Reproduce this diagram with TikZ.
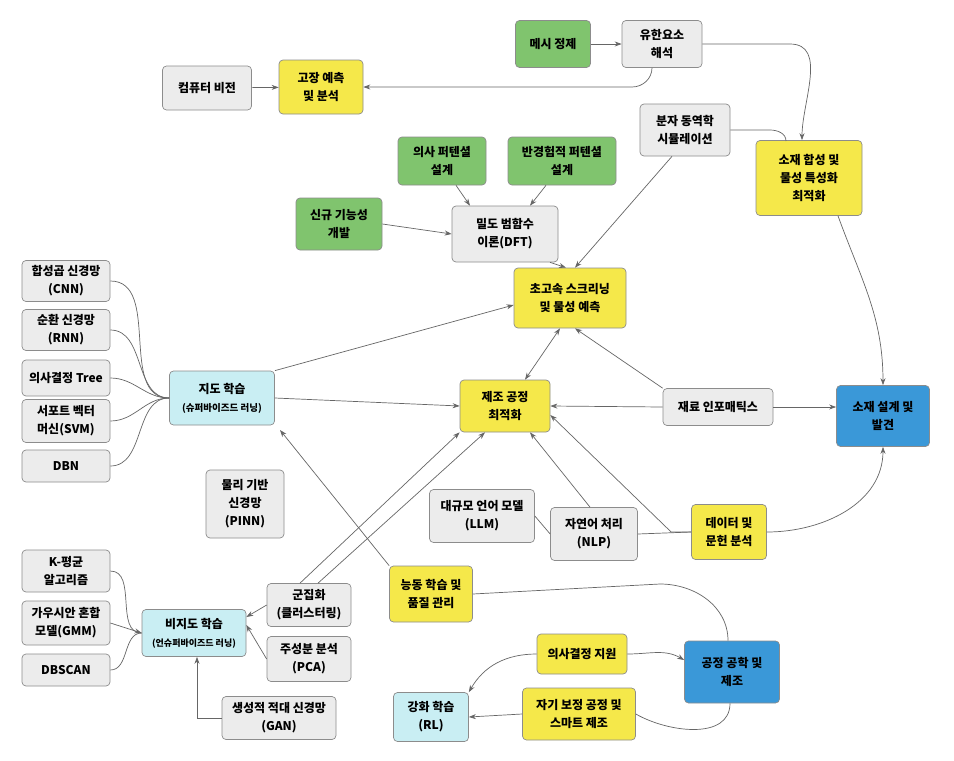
\documentclass[tikz,border=0pt]{standalone}
\usepackage{fontspec}
\setmainfont{Noto Sans CJK KR}
\usetikzlibrary{arrows.meta}
\definecolor{cg}{HTML}{80C46E}
\definecolor{cy}{HTML}{F5E84A}
\definecolor{cgr}{HTML}{ECECEC}
\definecolor{cc}{HTML}{C9EEF3}
\definecolor{cb}{HTML}{3A98D8}
\begin{document}
\begin{tikzpicture}[x=1pt,y=-1pt,
 bx/.style={draw=black!45,rounded corners=4pt,align=center,font=\bfseries\fontsize{12}{18}\selectfont,inner sep=2pt,line width=0.7pt},
 g/.style={bx,fill=cgr}, gr/.style={bx,fill=cg}, ye/.style={bx,fill=cy},
 cy/.style={bx,fill=cc}, bl/.style={bx,fill=cb},
 ln/.style={draw=black!60,line width=0.7pt},
 ar/.style={ln,-{Stealth[length=7pt,width=5pt]}},
 ba/.style={ln,{Stealth[length=7pt,width=5pt]}-{Stealth[length=7pt,width=5pt]}}]
\useasboundingbox[fill=white] (0,0) rectangle (954,761);
\node[gr,minimum width=75,minimum height=47] (mesh) at (553,44) {메시 정제};
\node[g,minimum width=80,minimum height=47] (fem) at (662,44) {유한요소\\해석};
\node[g,minimum width=89,minimum height=44] (cv) at (207,88) {컴퓨터 비전};
\node[ye,minimum width=84,minimum height=54] (fail) at (321,87) {고장 예측\\및 분석};
\node[g,minimum width=90,minimum height=52] (md) at (685,130) {분자 동역학\\시뮬레이션};
\node[ye,minimum width=106,minimum height=75] (syn) at (809,178) {소재 합성 및\\물성 특성화\\최적화};
\node[gr,minimum width=88,minimum height=48] (pp) at (442,161) {의사 퍼텐셜\\설계};
\node[gr,minimum width=108,minimum height=48] (sep) at (562,161) {반경험적 퍼텐셜\\설계};
\node[gr,minimum width=86,minimum height=52] (new) at (339,224) {신규 기능성\\개발};
\node[g,minimum width=106,minimum height=56] (dft) at (505,234) {밀도 범함수\\이론(DFT)};
\node[ye,minimum width=112,minimum height=60] (hts) at (570,298) {초고속 스크리닝\\및 물성 예측};
\node[g,minimum width=88,minimum height=41] (cnn) at (66,281) {합성곱 신경망\\(CNN)};
\node[g,minimum width=88,minimum height=41] (rnn) at (66,330) {순환 신경망\\(RNN)};
\node[g,minimum width=88,minimum height=36] (tree) at (66,378) {의사결정 Tree};
\node[g,minimum width=88,minimum height=43] (svm) at (66,421) {서포트 벡터\\머신(SVM)};
\node[g,minimum width=88,minimum height=32] (dbn) at (66,466) {DBN};
\node[cy,minimum width=105,minimum height=54] (sup) at (222,398) {지도 학습\\{\fontsize{9.5}{13}\selectfont (슈퍼바이즈드 러닝)}};
\node[ye,minimum width=90,minimum height=52] (prod) at (505,406) {제조 공정\\최적화};
\node[g,minimum width=110,minimum height=37] (mi) at (718,407) {재료 인포매틱스};
\node[bl,minimum width=93,minimum height=61] (disc) at (883,416) {소재 설계 및\\발견};
\node[g,minimum width=78,minimum height=68] (pinn) at (245,504) {물리 기반\\신경망\\(PINN)};
\node[g,minimum width=105,minimum height=53] (llm) at (482,516) {대규모 언어 모델\\(LLM)};
\node[g,minimum width=87,minimum height=53] (nlp) at (594,534) {자연어 처리\\(NLP)};
\node[ye,minimum width=75,minimum height=55] (data) at (729,532) {데이터 및\\문헌 분석};
\node[g,minimum width=88,minimum height=42] (km) at (66,571) {K-평균\\알고리즘};
\node[g,minimum width=88,minimum height=44] (gmm) at (66,623) {가우시안 혼합\\모델(GMM)};
\node[g,minimum width=88,minimum height=32] (dbs) at (66,670) {DBSCAN};
\node[cy,minimum width=104,minimum height=47] (uns) at (194,633) {비지도 학습\\{\fontsize{9}{12}\selectfont (언슈퍼바이즈드 러닝)}};
\node[g,minimum width=84,minimum height=43] (clu) at (309,605) {군집화\\(클러스터링)};
\node[g,minimum width=84,minimum height=45] (pca) at (309,659) {주성분 분석\\(PCA)};
\node[g,minimum width=114,minimum height=43] (gan) at (279,718) {생성적 적대 신경망\\(GAN)};
\node[ye,minimum width=83,minimum height=56] (act) at (431,594) {능동 학습 및\\품질 관리};
\node[ye,minimum width=90,minimum height=40] (dec) at (582,654) {의사결정 지원};
\node[bl,minimum width=95,minimum height=62] (eng) at (732,672) {공정 공학 및\\제조};
\node[cy,minimum width=75,minimum height=49] (rl) at (431,717) {강화 학습\\(RL)};
\node[ye,minimum width=113,minimum height=52] (smart) at (579,714) {자기 보정 공정 및\\스마트 제조};
% edges
\draw[ar] (mesh) -- (fem);
\draw[ar] (fem.east) -- (790,44) to[out=0,in=90] (syn.north -| 802,0);
\draw[ar] (fem.south -| 652,0) to[out=-90,in=0] (632,87) -- (fail.east);
\draw[ar] (cv) -- (fail);
\draw[ln] (md.east) -- (770,130) to[out=0,in=90] (786,141);
\draw[ar] (md.south -| 672,0) -- (hts.north -| 575,0);
\draw[ar] (pp.south -| 456,0) -- (dft.north -| 470,0);
\draw[ar] (sep.south -| 546,0) -- (dft.north -| 530,0);
\draw[ar] (new.east) -- (dft.west);
\draw[ar] (dft.south -| 550,0) -- (hts.north -| 566,0);
\draw[ar] (syn.south -| 838,0) to[out=-70,in=90] (disc.north);
\draw[ar] (sup.north east) -- (hts.west |- 0,305);
\draw[ar] (sup.east) -- (prod.west);
\foreach \n in {cnn,rnn,tree,svm,dbn} \draw[ln] (\n.east) to[out=0,in=180] (sup.west);
\draw[ba] (hts.south -| 560,0) -- (prod.north -| 525,0);
\draw[ar] (mi.west) -- (prod.east);
\draw[ar] (mi.north west) -- (hts.south -| 575,0);
\draw[ar] (mi.east) -- (disc.west |- mi.east);
\draw[ar] (data.east) to[out=0,in=-90] (disc.south);
\draw[ar] (nlp.north -| 590,0) -- (prod.south -| 530,0);
\draw[ln] (llm.east) -- (nlp.west);
\draw[ln] (nlp.east) -- (data.west);
\draw[ar] (data.west) -- ++(-20,0) coordinate (dj) -- (prod.east |- 0,415);
\draw[ar] (act.north west) -- (280,430);
\draw[ln] (act.east) -- (660,584) to[out=0,in=90] (eng.north -| 728,0);
\draw[ar] (clu.north -| 300,0) -- (prod.south west);
\draw[ar] (clu.north -| 318,0) -- (prod.south -| 485,0);
\draw[ar] (clu.west) -- (uns.east |- 0,617);
\draw[ar] (pca.west) -- (uns.east |- 0,625);
\draw[ar] (gan.west) -- (197,718) -- (uns.south -| 197,0);
\draw[ln] (km.east) to[out=0,in=180] (uns.west);
\draw[ar] (gmm.east) -- (uns.west);
\draw[ln] (dbs.east) to[out=0,in=180] (uns.west);
\draw[ar] (dec.east) to[out=0,in=150] (eng.west |- 0,660);
\draw[ar] (dec.west) to[out=180,in=60] (rl.north east);
\draw[ar] (smart.west) -- (rl.east);
\draw[ln] (eng.south -| 730,0) to[out=-90,in=-30] (smart.east);
\end{tikzpicture}
\end{document}
